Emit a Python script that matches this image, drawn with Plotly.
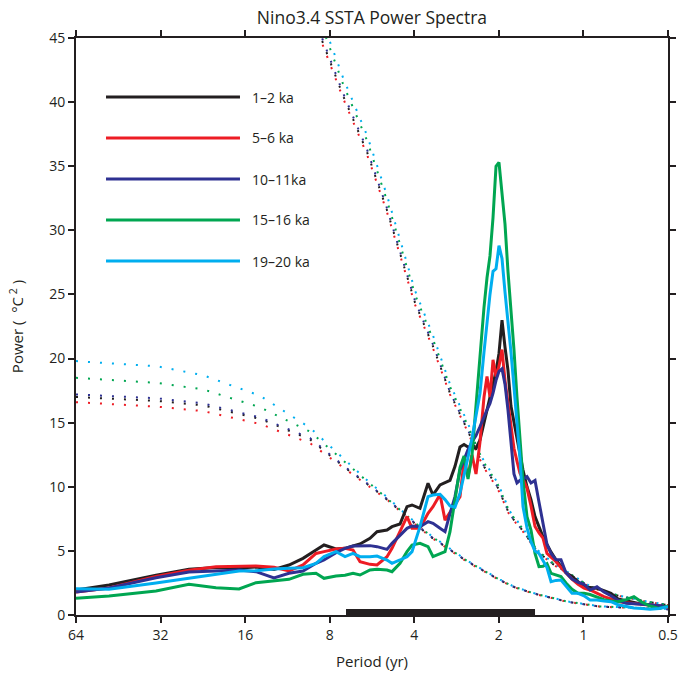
import plotly.graph_objects as go

# ---------------- data ----------------
# common period grid (yr) for the spectra
period = [64, 48.83, 33.22, 25.35, 20.32, 16.82, 14.64, 12.63, 11.17, 9.957,
          8.951, 8.383, 7.597, 7.057, 6.609, 6.241, 5.750, 5.429, 5.002, 4.801,
          4.496, 4.246, 4.075, 3.817, 3.574, 3.431, 3.239, 3.109, 2.985, 2.865,
          2.750, 2.661, 2.575, 2.492, 2.412, 2.334, 2.259, 2.204, 2.151, 2.098,
          2.047, 1.998, 1.949, 1.902, 1.856, 1.811, 1.767, 1.724, 1.682, 1.641,
          1.588, 1.537, 1.487, 1.439, 1.393, 1.348, 1.304, 1.252, 1.202, 1.154,
          1.098, 1.045, 0.995, 0.947, 0.895, 0.845, 0.798, 0.753, 0.705, 0.661,
          0.619, 0.579, 0.538, 0.5]

power_1_2ka = [1.95, 2.34, 3.1, 3.56, 3.7, 3.67, 3.74, 3.56, 3.9, 4.42,
               5.07, 5.46, 5.15, 5.2, 5.38, 5.54, 5.98, 6.5, 6.63, 6.89,
               7.1, 8.45, 8.58, 8.32, 10.27, 9.36, 10.14, 10.3, 10.5, 11.6,
               13.1, 13.3, 13.1, 13.1, 13.0, 13.65, 15.0, 16.0, 16.8, 17.8,
               19.0, 20.4, 23.0, 20.9, 19.1, 16.3, 15.0, 13.6, 12.6, 11.3,
               10.0, 9.0, 7.67, 6.8, 6.1, 5.5, 4.9, 4.3, 3.75, 3.3,
               3.0, 2.6, 2.2, 2.15, 2.08, 1.9, 1.7, 1.25, 1.1, 0.95,
               0.85, 0.78, 0.7, 0.65]

power_5_6ka = [1.8, 2.1, 3.0, 3.5, 3.77, 3.77, 3.82, 3.72, 3.43, 3.9,
               4.8, 4.94, 5.15, 5.2, 5.07, 4.16, 3.95, 3.9, 4.55, 5.2,
               6.5, 7.67, 6.76, 6.76, 7.93, 8.45, 9.4, 7.4, 8.0, 8.6,
               9.23, 12.0, 10.8, 12.5, 11.0, 13.5, 17.0, 18.6, 17.0, 19.9,
               18.6, 19.4, 20.7, 18.3, 16.5, 14.5, 13.0, 12.0, 11.05, 10.6,
               9.9, 8.5, 6.9, 6.4, 6.0, 4.8, 4.5, 4.16, 3.7, 3.3,
               2.8, 2.4, 2.1, 1.95, 1.7, 1.43, 1.25, 1.04, 0.95, 0.9,
               0.85, 0.8, 0.7, 0.6]

power_10_11ka = [1.8, 2.1, 2.9, 3.35, 3.43, 3.5, 3.38, 2.9, 3.25, 3.43,
                 4.03, 4.29, 4.86, 5.2, 5.38, 5.41, 5.41, 5.33, 5.12, 5.59,
                 6.24, 6.76, 6.94, 6.89, 7.28, 7.15, 6.76, 6.5, 7.9, 9.23,
                 11.3, 12.1, 12.9, 13.5, 14.0, 14.7, 15.5, 16.0, 16.5, 17.3,
                 18.3, 19.0, 19.2, 18.0, 16.0, 13.3, 11.0, 10.3, 10.5, 10.6,
                 10.8, 10.3, 10.5, 8.8, 7.0, 5.5, 4.8, 4.3, 4.3, 3.3,
                 2.8, 2.55, 2.4, 1.95, 2.2, 1.8, 1.5, 1.15, 0.92, 0.9,
                 0.88, 0.8, 0.72, 0.65]

power_15_16ka = [1.3, 1.48, 1.87, 2.4, 2.13, 2.03, 2.52, 2.65, 2.78, 3.17,
                 3.25, 2.86, 3.04, 3.1, 3.25, 3.12, 3.51, 3.56, 3.51, 3.38,
                 4.03, 4.94, 5.46, 5.59, 5.33, 4.55, 4.8, 4.94, 6.5, 9.0,
                 11.5, 12.4, 10.6, 12.5, 16.5, 20.1, 24.0, 26.3, 28.0, 31.0,
                 35.0, 35.3, 32.9, 30.5, 26.8, 23.8, 20.7, 17.0, 13.6, 10.5,
                 7.67, 6.63, 4.8, 3.77, 3.8, 4.0, 3.25, 3.12, 3.0, 2.5,
                 2.0, 1.69, 1.69, 1.6, 1.43, 1.2, 1.1, 1.04, 1.2, 1.43,
                 1.0, 0.7, 0.52, 0.7]

power_19_20ka = [2.05, 2.0, 2.5, 2.86, 3.2, 3.43, 3.45, 3.59, 3.64, 3.69,
                 4.03, 4.55, 4.94, 4.55, 4.8, 4.55, 4.55, 4.6, 4.29, 4.03,
                 4.29, 4.55, 4.94, 6.89, 9.23, 9.36, 9.41, 9.0, 8.5, 8.4,
                 9.5, 10.8, 12.3, 13.8, 15.6, 17.3, 20.5, 22.8, 25.0, 26.8,
                 27.0, 28.8, 27.8, 25.2, 23.0, 20.5, 17.8, 15.3, 12.2, 8.45,
                 6.8, 5.7, 5.0, 4.8, 4.3, 3.7, 2.6, 2.7, 2.73, 2.3,
                 1.69, 1.69, 1.5, 1.17, 1.17, 1.1, 1.04, 0.8, 0.65, 0.55,
                 0.5, 0.45, 0.5, 0.65]

# dotted reference curves (lower and upper) per series
low_period = [64, 32.95, 22.6, 14.16, 9.40, 6.97, 5.75, 5.0, 4.387, 3.51,
              2.985, 2.596, 1.98, 1.781, 1.512, 1.144, 0.873, 0.5]
low_1_2ka = [17.0, 16.7, 16.35, 15.3, 13.7, 11.4, 10.05, 9.0, 7.92, 6.12,
             5.08, 4.18, 2.71, 2.21, 1.69, 1.035, 0.655, 0.445]
low_5_6ka = [16.6, 16.25, 15.9, 14.9, 13.4, 11.3, 10.0, 9.0, 7.9, 6.1,
             5.05, 4.15, 2.7, 2.2, 1.68, 1.03, 0.65, 0.44]
low_10_11ka = [17.2, 16.9, 16.5, 15.4, 13.8, 11.45, 10.1, 9.05, 7.95, 6.15,
               5.1, 4.2, 2.72, 2.22, 1.7, 1.04, 0.66, 0.45]
low_15_16ka = [18.5, 18.1, 17.6, 16.2, 14.3, 11.8, 10.2, 9.1, 8.0, 6.2,
               5.12, 4.22, 2.74, 2.23, 1.71, 1.05, 0.67, 0.46]
low_19_20ka = [19.8, 19.4, 18.7, 17.1, 14.6, 12.0, 10.3, 9.2, 8.05, 6.25,
               5.15, 4.25, 2.76, 2.25, 1.72, 1.06, 0.68, 0.47]

up_period = [9.40, 8.52, 7.17, 5.89, 5.0, 3.976, 3.431, 2.985, 2.596, 2.277,
             2.014, 1.83, 1.641, 1.463, 1.283, 1.089, 0.947, 0.805, 0.723, 0.594, 0.5]
up_1_2ka = [50.3, 44.8, 40.5, 36.1, 31.55, 24.35, 20.95, 17.3, 14.5, 11.7,
            9.9, 7.8, 6.55, 4.97, 3.97, 2.97, 2.18, 1.675, 1.415, 1.03, 0.772]
up_5_6ka = [50, 44.6, 40.3, 35.9, 31.4, 24.2, 20.8, 17.2, 14.4, 11.6,
            9.8, 7.75, 6.5, 4.95, 3.95, 2.95, 2.17, 1.67, 1.41, 1.03, 0.77]
up_10_11ka = [50.5, 45.0, 40.7, 36.3, 31.7, 24.5, 21.1, 17.4, 14.6, 11.75,
              9.95, 7.85, 6.57, 4.98, 3.98, 2.98, 2.19, 1.68, 1.42, 1.035, 0.775]
up_15_16ka = [51.5, 45.9, 41.4, 37.0, 32.3, 25.0, 21.5, 17.8, 14.9, 12.0,
              10.15, 8.0, 6.7, 5.06, 4.04, 3.03, 2.22, 1.7, 1.44, 1.05, 0.785]
up_19_20ka = [52, 46.4, 41.9, 37.4, 32.7, 25.3, 21.8, 18.0, 15.1, 12.15,
              10.25, 8.1, 6.75, 5.1, 4.07, 3.05, 2.24, 1.71, 1.45, 1.055, 0.79]

labels = ["1\u20132 ka", "5\u20136 ka", "10\u201311ka", "15\u201316 ka", "19\u201320 ka"]
colors = ["#231f20", "#ed1c24", "#2e3192", "#00a651", "#00aeef"]
spectra = [power_1_2ka, power_5_6ka, power_10_11ka, power_15_16ka, power_19_20ka]
lows = [low_1_2ka, low_5_6ka, low_10_11ka, low_15_16ka, low_19_20ka]
ups = [up_1_2ka, up_5_6ka, up_10_11ka, up_15_16ka, up_19_20ka]

# ENSO band bar (period range, yr)
band_period = [7.0, 1.487]
band_level = [0.24, 0.24]

x_ticks = [64, 32, 16, 8, 4, 2, 1, 0.5]
x_ticklabels = ["64", "32", "16", "8", "4", "2", "1", "0.5"]
y_ticks = [0, 5, 10, 15, 20, 25, 30, 35, 40, 45]

for s in spectra:
    assert len(s) == len(period), len(s)
for s in lows:
    assert len(s) == len(low_period)
for s in ups:
    assert len(s) == len(up_period)

# ---------------- figure ----------------
fig = go.Figure()

for i in range(5):
    for px, py in ((low_period, lows[i]), (up_period, ups[i])):
        fig.add_trace(go.Scatter(
            x=px, y=py, mode="lines", showlegend=False, hoverinfo="skip",
            line=dict(color=colors[i], width=2, dash="2px,10px")))

fig.add_trace(go.Scatter(
    x=band_period, y=band_level, mode="lines", showlegend=False,
    line=dict(color="#231f20", width=6)))

for i in range(5):
    fig.add_trace(go.Scatter(
        x=period, y=spectra[i], mode="lines", name=labels[i], showlegend=False,
        line=dict(color=colors[i], width=3)))

# hand-drawn legend (long line samples like the original)
legend_y = [0.8977, 0.8267, 0.7556, 0.6846, 0.6135]
shapes = []
annotations = []
for i in range(5):
    shapes.append(dict(type="line", xref="paper", yref="paper",
                       x0=0.0507, x1=0.277, y0=legend_y[i], y1=legend_y[i],
                       line=dict(color=colors[i], width=3)))
    annotations.append(dict(xref="paper", yref="paper", x=0.294, y=legend_y[i],
                            text=labels[i], showarrow=False, xanchor="left",
                            yanchor="middle",
                            font=dict(size=14, color="#231f20")))

font_family = "Open Sans, Noto Sans, DejaVu Sans, sans-serif"

fig.update_layout(
    template="none",
    width=680, height=677,
    margin=dict(l=76, r=12, t=38, b=62, autoexpand=False),
    paper_bgcolor="white", plot_bgcolor="white",
    font=dict(family=font_family, size=14, color="#231f20"),
    title=dict(text="Nino3.4 SSTA Power Spectra", x=0.547, xanchor="center",
               y=0.974, yanchor="middle", font=dict(size=17.5)),
    shapes=shapes, annotations=annotations,
    showlegend=False,
)

fig.update_xaxes(
    type="log", range=[1.80618, -0.30103], automargin=False,
    tickvals=x_ticks, ticktext=x_ticklabels,
    ticks="outside", ticklen=6, tickwidth=1.5, tickcolor="#231f20",
    showline=True, linewidth=2, linecolor="#231f20", mirror="ticks",
    showgrid=False, zeroline=False,
    title=dict(text="Period (yr)", standoff=14, font=dict(size=15)),
)
fig.update_yaxes(
    range=[0, 45], tickvals=y_ticks, automargin=False,
    ticks="outside", ticklen=6, tickwidth=1.5, tickcolor="#231f20",
    showline=True, linewidth=2, linecolor="#231f20", mirror="ticks",
    showgrid=False, zeroline=False,
    title=dict(text="Power (\u00a0\u00a0\u00b0C<sup>\u00a02</sup>\u00a0)", standoff=22,
               font=dict(size=15)),
)

fig.write_html("out.html")
